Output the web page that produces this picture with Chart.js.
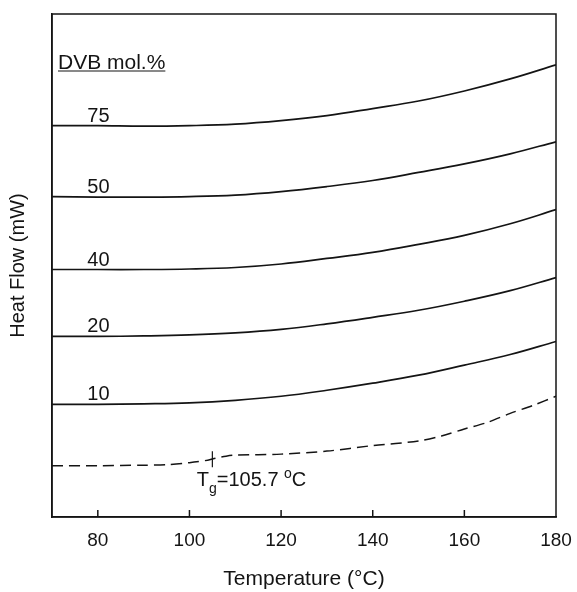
<!DOCTYPE html>
<html>
<head>
<meta charset="utf-8">
<script src="https://cdn.jsdelivr.net/npm/chart.js@4/dist/chart.umd.min.js"></script>
<style>body{margin:0;background:#fff}</style>
</head>
<body>
<canvas id="dsc" width="577" height="592"></canvas>
<script>
// temperatures (°C) for the DVB-containing samples
const temps = [70, 80, 90, 100, 110, 120, 130, 140, 150, 160, 170, 180];
// heat flow, arbitrary offset units (curves are stacked)
const dvb75 = [77.8, 77.8, 77.7, 77.8, 78.1, 78.8, 79.8, 81.2, 82.7, 84.7, 87.1, 89.9];
const dvb50 = [63.7, 63.6, 63.6, 63.7, 64.0, 64.7, 65.7, 66.9, 68.5, 70.2, 72.2, 74.6];
const dvb40 = [49.2, 49.2, 49.2, 49.3, 49.6, 50.3, 51.4, 52.6, 54.2, 56.0, 58.3, 61.1];
const dvb20 = [35.9, 35.9, 36.0, 36.2, 36.6, 37.3, 38.4, 39.7, 41.1, 42.9, 45.0, 47.6];
const dvb10 = [22.4, 22.4, 22.5, 22.7, 23.2, 24.0, 25.2, 26.6, 28.2, 30.2, 32.3, 34.9];
// 0 % DVB (dashed), glass transition visible near 105.7 °C
const tempsPS = [70, 80, 90, 95, 100, 104, 105.7, 108, 110, 120, 130, 140, 150, 155, 160, 165, 170, 175, 180];
const dvb0 = [10.2, 10.2, 10.3, 10.4, 10.8, 11.3, 11.7, 12.1, 12.3, 12.5, 13.1, 14.2, 15.1, 16.1, 17.5, 18.8, 20.6, 22.2, 24.0];

const seriesNames = ['75', '50', '40', '20', '10'];
const seriesData = [dvb75, dvb50, dvb40, dvb20, dvb10];
const tickVals = [80, 100, 120, 140, 160, 180];
const tg = 105.7;

const ink = '#141414';
const fontFam = '"Liberation Sans", Arial, sans-serif';

const toXY = (xs, ys) => xs.map((t, i) => ({x: t, y: ys[i]}));

const datasets = seriesData.map((d, i) => ({
  label: seriesNames[i],
  data: toXY(temps, d),
  borderColor: ink,
  borderWidth: 1.7,
  pointRadius: 0,
  tension: 0.4,
  fill: false,
}));
datasets.push({
  label: '0',
  data: toXY(tempsPS, dvb0),
  borderColor: ink,
  borderWidth: 1.5,
  borderDash: [11, 6],
  pointRadius: 0,
  tension: 0.3,
  fill: false,
});

const extras = {
  id: 'extras',
  afterDraw(chart) {
    const {ctx, chartArea: a, scales: {x, y}} = chart;
    ctx.save();
    ctx.strokeStyle = ink;
    ctx.lineWidth = 1.5;
    ctx.strokeRect(a.left, a.top, a.right - a.left, a.bottom - a.top);

    // inward tick marks on the bottom axis
    tickVals.slice(0, -1).forEach(v => {
      const px = x.getPixelForValue(v);
      ctx.beginPath();
      ctx.moveTo(px, a.bottom);
      ctx.lineTo(px, a.bottom - 7);
      ctx.stroke();
    });

    ctx.fillStyle = ink;
    ctx.textBaseline = 'alphabetic';
    ctx.textAlign = 'left';

    // legend heading
    const head = 'DVB mol.%';
    const hx = a.left + 6, hy = a.top + 55;
    ctx.font = '21px ' + fontFam;
    ctx.fillText(head, hx, hy);
    ctx.lineWidth = 1.2;
    ctx.beginPath();
    ctx.moveTo(hx, hy + 2);
    ctx.lineTo(hx + ctx.measureText(head).width, hy + 2);
    ctx.stroke();

    // curve labels
    ctx.font = '20px ' + fontFam;
    const lx = x.getPixelForValue(77.7);
    seriesData.forEach((d, i) => {
      ctx.fillText(seriesNames[i], lx, y.getPixelForValue(d[0]) - 4);
    });

    // Tg marker
    const tgx = x.getPixelForValue(tg - 0.7);
    const tgy = y.getPixelForValue(dvb0[tempsPS.indexOf(tg)]);
    ctx.lineWidth = 1.2;
    ctx.beginPath();
    ctx.moveTo(tgx, tgy - 7);
    ctx.lineTo(tgx, tgy + 9);
    ctx.stroke();

    let tx = x.getPixelForValue(101.6);
    const ty = a.bottom - 31;
    ctx.font = '20px ' + fontFam;
    ctx.fillText('T', tx, ty);
    tx += ctx.measureText('T').width;
    ctx.font = '14px ' + fontFam;
    ctx.fillText('g', tx, ty + 7);
    tx += ctx.measureText('g').width;
    ctx.font = '20px ' + fontFam;
    ctx.fillText('=105.7 ', tx, ty);
    tx += ctx.measureText('=105.7 ').width;
    ctx.font = '14px ' + fontFam;
    ctx.fillText('o', tx, ty - 8);
    tx += ctx.measureText('o').width;
    ctx.font = '20px ' + fontFam;
    ctx.fillText('C', tx, ty);
    ctx.restore();
  }
};

new Chart(document.getElementById('dsc'), {
  type: 'line',
  data: {datasets},
  options: {
    responsive: false,
    animation: false,
    devicePixelRatio: 1,
    layout: {padding: {left: 0, right: 21, top: 14, bottom: 0}},
    plugins: {legend: {display: false}, tooltip: {enabled: false}},
    scales: {
      x: {
        type: 'linear',
        min: 70,
        max: 180,
        afterBuildTicks: s => { s.ticks = tickVals.map(v => ({value: v})); },
        afterFit: s => { s.paddingRight = 0; },
        grid: {display: false, drawTicks: false},
        border: {display: true, color: ink, width: 1.5},
        ticks: {color: ink, padding: 12, font: {family: fontFam, size: 19}},
        title: {
          display: true,
          text: 'Temperature (°C)',
          color: ink,
          font: {family: fontFam, size: 21},
          padding: {top: 3, bottom: 0},
        },
      },
      y: {
        min: 0,
        max: 100,
        grid: {display: false, drawTicks: false},
        border: {display: true, color: ink, width: 1.5},
        ticks: {display: false},
        title: {
          display: true,
          text: 'Heat Flow (mW)',
          color: ink,
          font: {family: fontFam, size: 20},
          padding: {top: 6, bottom: 22},
        },
      },
    },
  },
  plugins: [extras],
});
</script>
</body>
</html>
